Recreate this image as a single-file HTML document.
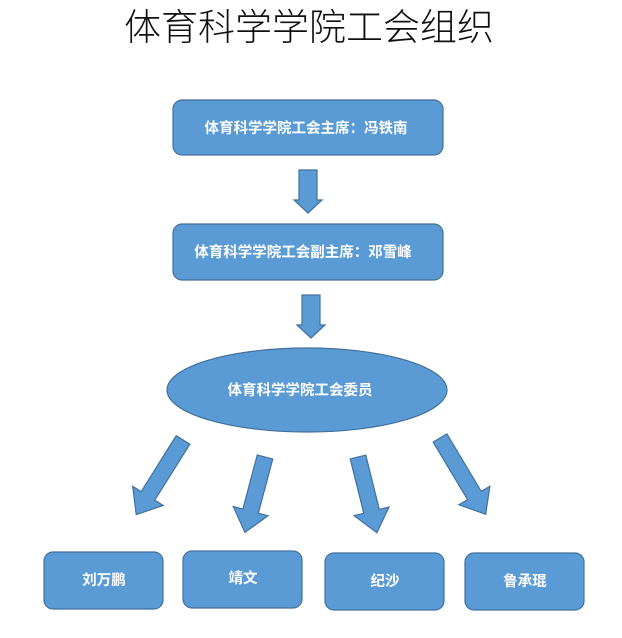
<!DOCTYPE html>
<html><head><meta charset="utf-8"><style>
html,body{margin:0;padding:0;background:#fff;}
svg{display:block;}
text{font-family:"Liberation Sans","Noto Sans CJK SC",sans-serif;}
</style></head><body>
<svg width="622" height="638" viewBox="0 0 622 638" xmlns="http://www.w3.org/2000/svg">
<text x="309" y="40" text-anchor="middle" font-size="37" fill="#111" style="font-family:'Noto Sans CJK SC',sans-serif;font-weight:300">体育科学学院工会组织</text>
<g fill="#5b9bd5" stroke="#41719c" stroke-width="1.2">
<rect x="173" y="100" width="270" height="55" rx="9"/>
<rect x="173" y="224" width="270" height="56" rx="9"/>
<polygon points="299,170 317,170 317,200 322,200 308,213 294,200 299,200"/>
<polygon points="302,295 320,295 320,325 325,325 311,338 297,325 302,325"/>
<ellipse cx="307" cy="390" rx="140" ry="42"/>
<rect x="44" y="552" width="119" height="57" rx="9"/>
<rect x="183" y="551" width="119" height="57" rx="9"/>
<rect x="325" y="553" width="119" height="57" rx="9"/>
<rect x="465" y="553" width="119" height="57" rx="9"/>
<polygon points="0,-8 66,-8 66,-18 88,0 66,18 66,8 0,8" transform="translate(183,440) rotate(122.1)"/>
<polygon points="0,-8 56,-8 56,-18 78,0 56,18 56,8 0,8" transform="translate(265,457) rotate(104.9)"/>
<polygon points="0,-8 56,-8 56,-18 78,0 56,18 56,8 0,8" transform="translate(358,457) rotate(76)"/>
<polygon points="0,-8 67,-8 67,-18 89,0 67,18 67,8 0,8" transform="translate(440,438) rotate(59.1)"/>
</g>
<g fill="#fff" font-size="14.5" font-weight="bold" text-anchor="middle">
<text x="306" y="133">体育科学学院工会主席：冯铁南</text>
<text x="303" y="257">体育科学学院工会副主席：邓雪峰</text>
<text x="300" y="395">体育科学学院工会委员</text>
<text x="104" y="585">刘万鹏</text>
<text x="243" y="583">靖文</text>
<text x="385" y="586">纪沙</text>
<text x="525" y="586">鲁承琨</text>
</g>
</svg>
</body></html>
